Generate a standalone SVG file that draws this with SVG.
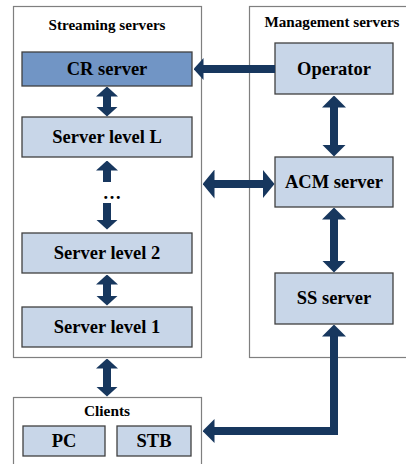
<svg xmlns="http://www.w3.org/2000/svg" width="406" height="464" viewBox="0 0 406 464">
<style>
.bg{fill:#ffffff}
.cont{fill:#ffffff;stroke:#7f7f7f;stroke-width:1.2}
.box{fill:#c8d6e8;stroke:#404040;stroke-width:1.3}
.cr{fill:#7195c5;stroke:#404040;stroke-width:1.3}
.t{font-family:"Liberation Serif","Times New Roman",serif;font-weight:bold;fill:#000;text-anchor:middle}
.lbl{font-size:18.5px}
.ttl{font-size:14px}
.arr{fill:none;stroke:#17375e;stroke-width:8;stroke-linejoin:miter}
.hd{fill:#17375e}
</style>
<defs>
<marker id="hs" viewBox="0 0 10 22" refX="0.5" refY="11" markerWidth="10" markerHeight="22" markerUnits="userSpaceOnUse" orient="auto-start-reverse"><path class="hd" d="M0,0 L10,11 L0,22 Z"/></marker>
<marker id="h" viewBox="0 0 12 24" refX="0.5" refY="12" markerWidth="12" markerHeight="24" markerUnits="userSpaceOnUse" orient="auto-start-reverse"><path class="hd" d="M0,0 L12,12 L0,24 Z"/></marker>
<marker id="hb" viewBox="0 0 12 29" refX="0.5" refY="14.5" markerWidth="12" markerHeight="29" markerUnits="userSpaceOnUse" orient="auto-start-reverse"><path class="hd" d="M0,0 L12,14.5 L0,29 Z"/></marker>
</defs>
<rect class="bg" x="0" y="0" width="406" height="464"/>

<g id="streaming-servers">
<rect class="cont" x="13.5" y="6.5" width="188" height="351"/>
<text class="t ttl" x="107" y="30" textLength="117" lengthAdjust="spacingAndGlyphs">Streaming servers</text>
</g>
<g id="management-servers">
<rect class="cont" x="249.5" y="6.5" width="170" height="351"/>
<text class="t ttl" x="332" y="27" textLength="135" lengthAdjust="spacingAndGlyphs">Management servers</text>
</g>
<g id="clients">
<rect class="cont" x="13.5" y="397.5" width="188" height="80"/>
<text class="t ttl" x="107" y="416" textLength="46" lengthAdjust="spacingAndGlyphs">Clients</text>
</g>

<g id="cr-server"><rect class="cr" x="22" y="52" width="170" height="34"/><text class="t lbl" x="107" y="75">CR server</text></g>
<g id="server-level-l"><rect class="box" x="22" y="117" width="170" height="40"/><text class="t lbl" x="107" y="143">Server level L</text></g>
<g id="ellipsis"><text class="t lbl" x="112" y="199">…</text></g>
<g id="server-level-2"><rect class="box" x="22" y="233" width="170" height="40"/><text class="t lbl" x="107" y="259">Server level 2</text></g>
<g id="server-level-1"><rect class="box" x="22" y="307" width="170" height="40"/><text class="t lbl" x="107" y="333">Server level 1</text></g>

<g id="operator"><rect class="box" x="275" y="43" width="118" height="51"/><text class="t lbl" x="334" y="74.5">Operator</text></g>
<g id="acm-server"><rect class="box" x="275" y="157" width="118" height="50"/><text class="t lbl" x="334" y="188">ACM server</text></g>
<g id="ss-server"><rect class="box" x="275" y="273" width="118" height="51"/><text class="t lbl" x="334" y="304">SS server</text></g>

<g id="pc"><rect class="box" x="23" y="426" width="82" height="30"/><text class="t lbl" x="64" y="447">PC</text></g>
<g id="stb"><rect class="box" x="117" y="426" width="74" height="30"/><text class="t lbl" x="154" y="447">STB</text></g>

<g id="connectors">
<path class="arr" d="M275,69 L203,69" marker-end="url(#hs)"/>
<path class="arr" d="M107,96 L107,107" marker-start="url(#hs)" marker-end="url(#hs)"/>
<path class="arr" d="M107,182 L107,170" marker-end="url(#hs)"/>
<path class="arr" d="M107,203 L107,220" marker-end="url(#hs)"/>
<path class="arr" d="M107,284 L107,296" marker-start="url(#hs)" marker-end="url(#hs)"/>
<path class="arr" d="M107,368 L107,387" marker-start="url(#hs)" marker-end="url(#hs)"/>
<path class="arr" d="M334,107 L334,145" marker-start="url(#h)" marker-end="url(#h)"/>
<path class="arr" d="M334,219 L334,261" marker-start="url(#h)" marker-end="url(#h)"/>
<path class="arr" d="M214,184 L263,184" marker-start="url(#hb)" marker-end="url(#hb)"/>
<path class="arr" d="M214,431 L334,431 L334,336" marker-start="url(#h)" marker-end="url(#h)"/>
</g>
</svg>
